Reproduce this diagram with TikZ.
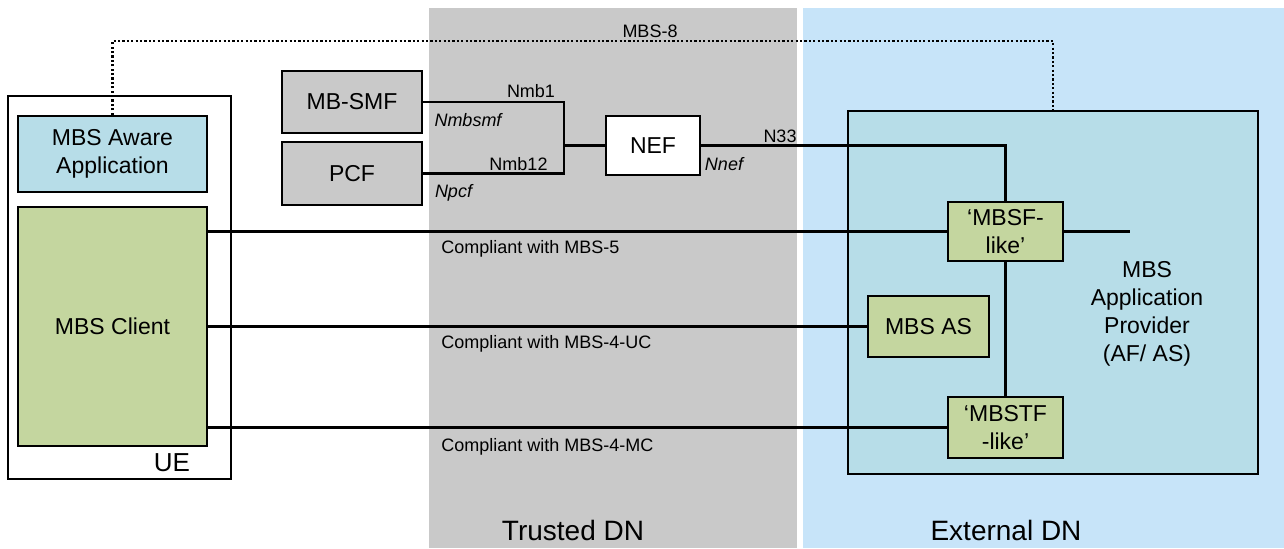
\documentclass[tikz,border=0pt]{standalone}
\usepackage{fontspec}
\setmainfont{Liberation Sans}
\begin{document}
\begin{tikzpicture}[x=0.5pt,y=-0.5pt,
  box/.style={draw=black,line width=1.3pt,inner sep=0pt,align=center,font=\fontsize{11.5}{14}\selectfont},
  lbl/.style={inner sep=0pt,font=\fontsize{9}{11}\selectfont},
  ilbl/.style={inner sep=0pt,font=\fontsize{9}{11}\selectfont\itshape},
  conn/.style={line width=1.15pt},
  dotline/.style={line width=1.3pt,dash pattern=on 1.1pt off 1.1pt},
  dnlbl/.style={inner sep=0pt,font=\fontsize{14}{16}\selectfont}]
\definecolor{trustgray}{HTML}{C9C9C9}
\definecolor{extblue}{HTML}{C7E4F9}
\definecolor{provblue}{HTML}{B7DDE8}
\definecolor{cligreen}{HTML}{C4D69F}
\useasboundingbox (0,0) rectangle (1284,548);
\fill[white] (0,0) rectangle (1284,548);
% regions
\fill[trustgray] (429,8) rectangle (797,548);
\fill[extblue] (803,8) rectangle (1284,548);
\node[dnlbl] (trustedlbl) at (573,530) {Trusted DN};
\node[dnlbl] (externallbl) at (1006,530) {External DN};
% UE
\node[box,fill=white,minimum width=111.5pt,minimum height=191.5pt] (ue) at (119.5,287.5) {};
\node[inner sep=0pt,font=\fontsize{13}{15}\selectfont] (uelbl) at (172,463) {UE};
\node[box,fill=provblue,minimum width=94.5pt,minimum height=38pt] (aware) at (112.5,154) {MBS Aware\\Application};
\node[box,fill=cligreen,minimum width=94.5pt,minimum height=119.5pt] (client) at (112.5,326.5) {MBS Client};
% core functions
\node[box,fill=trustgray,minimum width=70pt,minimum height=31pt] (mbsmf) at (352,102) {MB-SMF};
\node[box,fill=trustgray,minimum width=70pt,minimum height=31.5pt] (pcf) at (352,173.5) {PCF};
\node[box,fill=white,minimum width=47pt,minimum height=29.5pt] (nef) at (653,145.5) {NEF};
% provider
\node[box,fill=provblue,minimum width=205pt,minimum height=181.5pt] (prov) at (1053,292.5) {};
\node[inner sep=0pt,align=center,font=\fontsize{11.5}{14}\selectfont] (provlbl) at (1147,314) {MBS\\Application\\Provider\\(AF/ AS)};
\node[box,fill=cligreen,minimum width=57.5pt,minimum height=29.5pt] (mbsf) at (1005.5,231.5) {`MBSF-\\like'};
\node[box,fill=cligreen,minimum width=60.5pt,minimum height=30.5pt] (mbsas) at (928.5,326.5) {MBS AS};
\node[box,fill=cligreen,minimum width=57.5pt,minimum height=30.5pt] (mbstf) at (1005.5,427.5) {`MBSTF\\-like'};
% connectors
\coordinate (j) at (564,145.5);
\draw[conn] (mbsmf.east) -| (j);
\draw[conn] (pcf.east) -| (j);
\draw[conn] (j) -- (nef.west);
\draw[conn] (nef.east) -| (mbsf.north);
\coordinate (mbsfend) at (1130,231.5);
\draw[conn] (mbsf.east) -- (mbsfend);
\draw[conn] (mbsf.south) -- (mbstf.north);
\draw[conn] (client.east |- mbsf.west) -- (mbsf.west);
\draw[conn] (client.east |- mbsas.west) -- (mbsas.west);
\draw[conn] (client.east |- mbstf.west) -- (mbstf.west);
\coordinate (dottop) at (112.5,41);
\draw[dotline] (aware.north) -- (dottop) -| (prov.north);
% labels
\node[lbl] (nmb1) at (531,91) {Nmb1};
\node[ilbl] (nmbsmf) at (468,120) {Nmbsmf};
\node[lbl] (nmb12) at (518.5,164) {Nmb12};
\node[ilbl] (npcf) at (453.5,193) {Npcf};
\node[ilbl] (nnef) at (724,164) {Nnef};
\node[lbl] (n33) at (780,136) {N33};
\node[lbl] (mbs8) at (650,31) {MBS-8};
\node[lbl,anchor=west] (c5) at (441,249) {Compliant with MBS-5};
\node[lbl,anchor=west] (c4uc) at (441,344) {Compliant with MBS-4-UC};
\node[lbl,anchor=west] (c4mc) at (441,447) {Compliant with MBS-4-MC};
\end{tikzpicture}
\end{document}
